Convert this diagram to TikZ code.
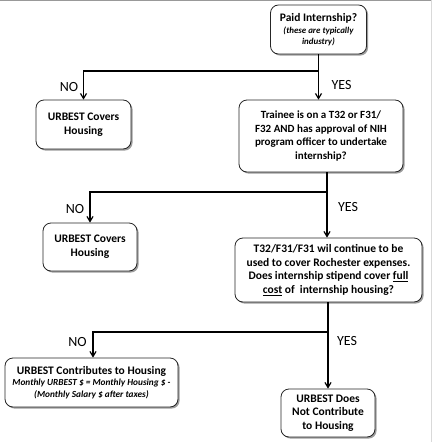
\documentclass[tikz,border=0pt]{standalone}
\usepackage{fontspec}
\setmainfont{Carlito}
\usetikzlibrary{shadows,arrows.meta}
\newcommand{\smit}[1]{{\fontsize{8.9}{10}\selectfont\itshape #1}}
\newcommand{\mdit}[1]{{\fontsize{9.3}{11}\selectfont\itshape #1}}
\begin{document}
\begin{tikzpicture}[x=1pt,y=-1pt,
  box/.style={draw=black!85, line width=0.8pt, rounded corners=8pt, fill=white, align=center,
    inner sep=1pt, font=\bfseries\fontsize{11.5}{13.7}\selectfont,
    drop shadow={shadow xshift=1.6pt, shadow yshift=-1.6pt, opacity=0.55, fill=black!70}},
  conn/.style={line width=1.4pt, black},
  arr/.style={conn, -{Straight Barb[length=5pt,width=6pt,line width=1.2pt]}},
  lbl/.style={font=\fontsize{14}{16}\selectfont}]
\useasboundingbox (0,0) rectangle (432,442);
\draw[black!40, line width=1pt] (0,0.5) -- (432,0.5);
\draw[black!15, line width=0.6pt] (431.5,0) -- (431.5,442);

\node[box, minimum width=96pt, minimum height=49pt] (paid) at (318.5,29.5)
  {Paid Internship?\\[-2pt]
   \smit{(these are typically}\\[-3pt] \smit{industry)}};
\node[box, minimum width=95pt, minimum height=49pt] (urb1) at (83.5,124.5)
  {URBEST Covers\\ Housing};
\node[box, minimum width=164pt, minimum height=72pt, font=\bfseries\fontsize{11}{13.7}\selectfont] (trainee) at (321,136)
  {Trainee is on a T32 or F31/\\ F32 AND has approval of NIH\\ program officer to undertake\\ internship?};
\node[box, minimum width=94pt, minimum height=48pt] (urb2) at (90,247)
  {URBEST Covers\\ Housing};
\node[box, minimum width=187pt, minimum height=64pt] (cont) at (328.5,270)
  {T32/F31/F31 wil continue to be\\ used to cover Rochester expenses.\\ Does internship stipend cover \underline{full}\\ \underline{cost} of\ \ internship housing?};
\node[box, minimum width=173pt, minimum height=49pt] (contrib) at (91.5,382.5)
  {URBEST Contributes to Housing\\[-2pt]
   \mdit{Monthly URBEST \$ = Monthly Housing \$ -}\\[-2pt] \mdit{(Monthly Salary \$ after taxes)}};
\node[box, minimum width=94pt, minimum height=48pt] (none) at (328,413)
  {URBEST Does\\ Not Contribute\\ to Housing};

% connectors
\coordinate (j1) at (318,71);
\coordinate (s2) at (327,172);
\coordinate (j2) at (327,192);
\coordinate (s3) at (328,302);
\coordinate (j3) at (328,332);
\draw[arr] (paid.south) -- (paid.south |- trainee.north);
\draw[arr] (j1) -| (urb1.north);
\draw[arr] (s2) -- (s2 |- cont.north);
\draw[arr] (j2) -| (urb2.north);
\draw[arr] (s3) -- (s3 |- none.north);
\draw[arr] (j3) -| ([xshift=1.5pt]contrib.north);

% labels
\node[lbl] (no1) at (69,87) {NO};
\node[lbl] (yes1) at (341.5,85) {YES};
\node[lbl] (no2) at (75,209.5) {NO};
\node[lbl] (yes2) at (348,207) {YES};
\node[lbl] (no3) at (77.5,342) {NO};
\node[lbl] (yes3) at (347,341.5) {YES};
\end{tikzpicture}
\end{document}
